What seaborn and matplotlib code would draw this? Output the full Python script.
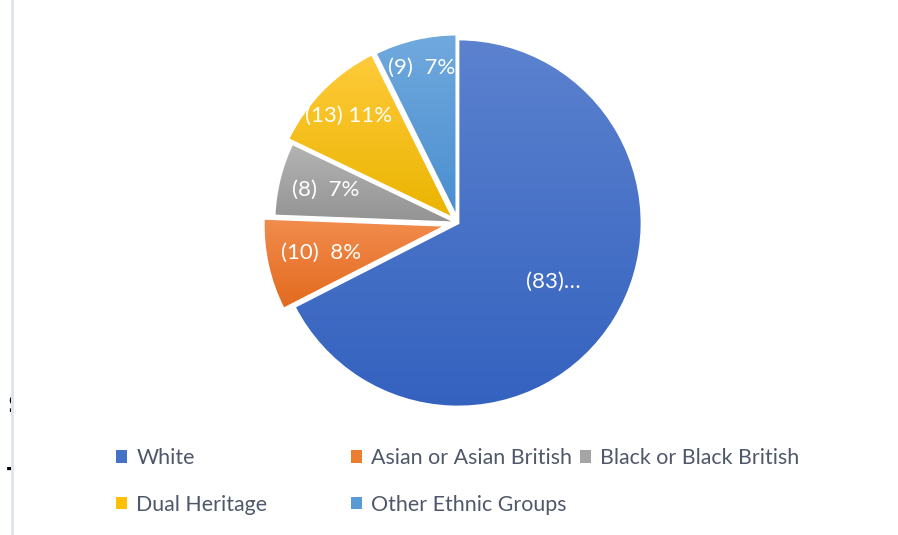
import numpy as np
import matplotlib
matplotlib.use("Agg")
import matplotlib.pyplot as plt
import matplotlib.colors as mcolors
from matplotlib.patches import Patch, Rectangle
from matplotlib.transforms import Bbox
import seaborn as sns

# data
groups = ["White", "Asian or Asian British", "Black or Black British",
          "Dual Heritage", "Other Ethnic Groups"]
counts = [83, 10, 8, 13, 9]
truncated = [True, False, False, False, False]   # Excel cut the White label short

# styling
mid_cols = ["#4472C4", "#ED7D31", "#A5A5A5", "#FFC000", "#5B9BD5"]
top_cols = ["#5C82CF", "#F28C4E", "#B4B4B4", "#FFCB3A", "#70A9DE"]
bot_cols = ["#3462BF", "#E26A1D", "#939393", "#EAB400", "#4A8ECF"]
explode_px = [0, 11, 0, 6, 5]
label_r = [0.61, 0.70, 0.74, 0.80, 0.84]

W, H = 898, 535
sns.set_theme(style="white")
plt.rcParams["font.family"] = ["Lato", "DejaVu Sans"]

fig = plt.figure(figsize=(W / 100, H / 100), dpi=100)
ax = fig.add_axes([0, 0, 1, 1])
ax.set_axis_off()

# axes works in pixel units, so radius and explode are in pixels
cx, cy, R = 458, H - 223, 184
wedges, _ = ax.pie(counts, startangle=90, counterclock=False, explode=explode_px,
                   center=(cx, cy), radius=R, colors=mid_cols,
                   wedgeprops=dict(edgecolor="white", linewidth=2))

# vertical gradient fill per wedge, like the Office style
grad = np.linspace(0, 1, 256)[:, None, None]
for w, tc, bc in zip(wedges, top_cols, bot_cols):
    t = np.array(mcolors.to_rgb(tc))
    b = np.array(mcolors.to_rgb(bc))
    img = t * (1 - grad) + b * grad
    img = np.repeat(img, 2, axis=1)
    bb = w.get_path().get_extents()
    im = ax.imshow(img, extent=[bb.x0, bb.x1, bb.y0, bb.y1], origin="upper",
                   aspect="auto", zorder=1, interpolation="bilinear")
    im.set_clip_path(w)
    w.set_facecolor("none")
    w.set_zorder(2)

total = sum(counts)
for w, c, cut, lr in zip(wedges, counts, truncated, label_r):
    pct = round(100 * c / total)
    txt = f"({c})…" if cut else f"({c}) {pct:>2}%"
    ang = np.deg2rad((w.theta1 + w.theta2) / 2)
    x = w.center[0] + lr * R * np.cos(ang)
    y = w.center[1] + lr * R * np.sin(ang)
    ax.text(x, y, txt, ha="center", va="center", color="white",
            fontsize=16, zorder=3)

ax.set_xlim(0, W)
ax.set_ylim(0, H)

# legend laid out in three columns, row-major like Excel
cols = [[0, 3], [1, 4], [2]]
col_x = [116, 351, 580]
for idx, x0 in zip(cols, col_x):
    handles = [Patch(facecolor=mid_cols[i], edgecolor="none") for i in idx]
    fig.legend(handles, [groups[i] for i in idx], loc="upper left",
               bbox_to_anchor=(x0 / W, 1 - 448 / H), frameon=False,
               fontsize=15.4, handlelength=0.5, handleheight=0.5,
               handletextpad=0.45, labelspacing=1.25, borderpad=0,
               borderaxespad=0, labelcolor="#4E586A")

# chart frame and cut-off text at the far left
fig.add_artist(Rectangle((12 / W, -0.1), 2, 2, transform=fig.transFigure,
                         fill=False, edgecolor="#DEE3EB", linewidth=2))
clip = Bbox([[0, 0], [11, H]])
for s, yy in [("S", 406), ("T", 478)]:
    t = fig.text(7 / W, 1 - yy / H, s, ha="left", va="center", fontsize=17,
                 color="black", fontweight="bold", family="DejaVu Sans")
    t.set_clip_on(True)
    t.set_clip_box(clip)

fig.savefig("out.png", dpi=100)
